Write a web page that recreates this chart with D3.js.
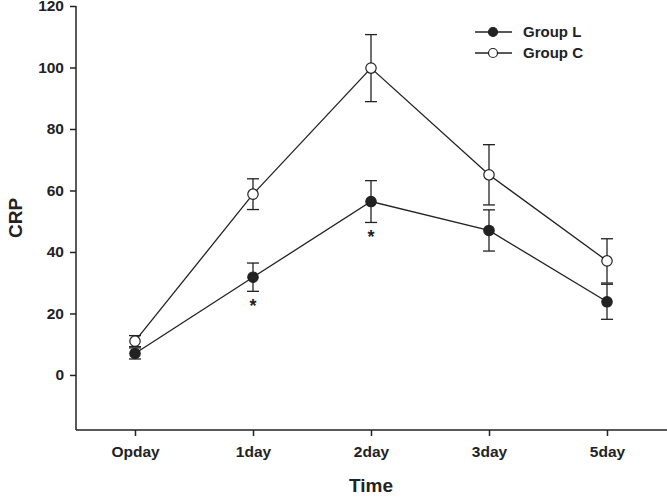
<!DOCTYPE html>
<html><head><meta charset="utf-8">
<script src="https://cdn.jsdelivr.net/npm/d3@7"></script>
<style>body{margin:0;background:#fff}svg{display:block}text{font-family:"Liberation Sans",Arial,sans-serif;font-weight:bold;fill:#222}</style>
</head><body><svg id="c" width="667" height="497"></svg>
<script>
const categories = ["Opday","1day","2day","3day","5day"];
const groupL = [7.0, 31.8, 56.4, 47.0, 23.8];
const groupLErr = [1.8, 4.6, 6.8, 6.7, 5.7];
const groupC = [11.0, 58.8, 99.8, 65.1, 37.1];
const groupCErr = [1.8, 5.0, 10.9, 9.8, 7.2];
const yTicks = [0,20,40,60,80,100,120];
const sigMarks = [{cat:"1day", y:26.9}, {cat:"2day", y:49.4}];

const svg = d3.select("#c");
const x = d3.scalePoint().domain(categories).range([76,666]).padding(0.5);
const y = d3.scaleLinear().domain([-17.9,120]).range([430,6]);
const col = "#222";

// axes
const ya = svg.append("g").attr("transform","translate(76,0)")
  .call(d3.axisLeft(y).tickValues(yTicks).tickSize(6).tickSizeOuter(0).tickPadding(6));
ya.select(".domain").attr("stroke",col).attr("stroke-width",1.5).attr("d","M0,6V430");
ya.selectAll("line").attr("stroke",col).attr("stroke-width",1.5);
ya.selectAll("text").style("font-size","15.5px").style("font-family","Liberation Sans, Arial").style("font-weight","bold").attr("fill",col);

const xa = svg.append("g").attr("transform","translate(0,430)")
  .call(d3.axisBottom(x).tickSize(6).tickSizeOuter(0).tickPadding(10));
xa.select(".domain").attr("stroke",col).attr("stroke-width",1.5).attr("d","M76,0H667");
xa.selectAll("line").attr("stroke",col).attr("stroke-width",1.5);
xa.selectAll("text").style("font-size","15.5px").style("font-family","Liberation Sans, Arial").style("font-weight","bold").attr("fill",col);

svg.append("text").attr("x",371).attr("y",492).attr("text-anchor","middle").style("font-size","19px").text("Time");
svg.append("text").attr("transform","translate(22,218) rotate(-90)").attr("text-anchor","middle").style("font-size","19px").text("CRP");

function drawSeries(vals, errs, filled){
  const g = svg.append("g");
  const line = d3.line().x((d,i)=>x(categories[i])).y(d=>y(d));
  g.append("path").attr("d",line(vals)).attr("fill","none").attr("stroke",col).attr("stroke-width",1.3);
  vals.forEach((v,i)=>{
    const cx = x(categories[i]);
    const top = y(v+errs[i]), bot = y(v-errs[i]);
    g.append("line").attr("x1",cx).attr("x2",cx).attr("y1",top).attr("y2",bot).attr("stroke",col).attr("stroke-width",1.3);
    [top,bot].forEach(yy=>g.append("line").attr("x1",cx-6).attr("x2",cx+6).attr("y1",yy).attr("y2",yy).attr("stroke",col).attr("stroke-width",1.3));
  });
  vals.forEach((v,i)=>{
    g.append("circle").attr("cx",x(categories[i])).attr("cy",y(v)).attr("r",5.2)
      .attr("fill",filled?col:"#fff").attr("stroke",col).attr("stroke-width",1.2);
  });
}
drawSeries(groupC, groupCErr, false);
drawSeries(groupL, groupLErr, true);

sigMarks.forEach(s=>{
  svg.append("text").attr("x",x(s.cat)).attr("y",y(s.y)+20).attr("text-anchor","middle").style("font-size","18px").text("*");
});

// legend
const leg = [{name:"Group L", filled:true, y:32},{name:"Group C", filled:false, y:53}];
leg.forEach(l=>{
  svg.append("line").attr("x1",475).attr("x2",512).attr("y1",l.y).attr("y2",l.y).attr("stroke",col).attr("stroke-width",1.3);
  svg.append("circle").attr("cx",493).attr("cy",l.y).attr("r",4.5).attr("fill",l.filled?col:"#fff").attr("stroke",col).attr("stroke-width",1.2);
  svg.append("text").attr("x",523).attr("y",l.y+5).style("font-size","15px").text(l.name);
});
</script></body></html>
